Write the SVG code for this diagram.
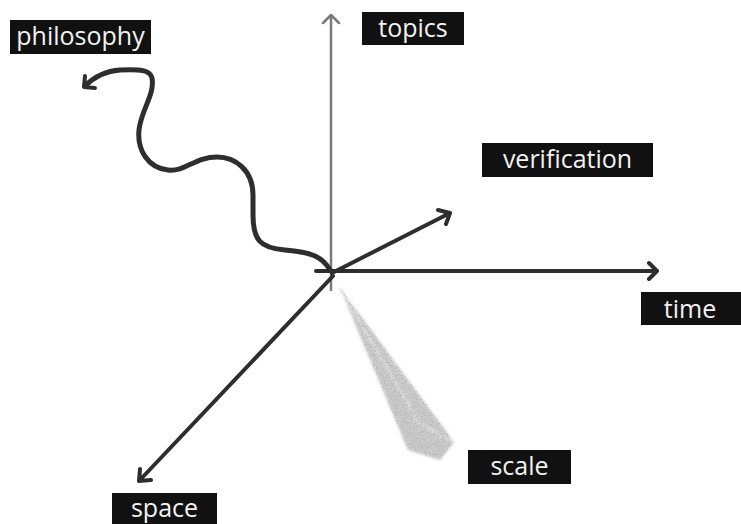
<svg xmlns="http://www.w3.org/2000/svg" width="741" height="524" viewBox="0 0 741 524">
  <style>
    .label rect { fill: #111; }
    .label text { fill: #f2f2f2; font-family: "Open Sans", "Noto Sans", sans-serif; font-size: 25px; }
    .axis { fill: none; stroke: #2e2e2e; stroke-width: 4; stroke-linecap: round; stroke-linejoin: round; }
    .thin { stroke: #7a7a7a; stroke-width: 2.5; }
    .wiggle { stroke-width: 5; }
  </style>
  <defs>
    <filter id="grain" x="-10%" y="-10%" width="120%" height="120%">
      <feTurbulence type="fractalNoise" baseFrequency="1.1" numOctaves="2" seed="5" result="noise"/>
      <feColorMatrix in="noise" type="matrix" values="0 0 0 0 0.45  0 0 0 0 0.45  0 0 0 0 0.45  0 0 0 3 -1.3" result="speck"/>
      <feComposite in="speck" in2="SourceGraphic" operator="in" result="texture"/>
      <feGaussianBlur in="SourceGraphic" stdDeviation="1.5" result="soft"/>
      <feMerge>
        <feMergeNode in="soft"/>
        <feMergeNode in="texture"/>
      </feMerge>
    </filter>
  </defs>
  <rect width="741" height="524" fill="#fff"/>

  <!-- scale: shaded cone -->
  <g id="scale-cone" filter="url(#grain)">
    <polygon points="340,288 454,442 440,460 408,450" fill="#cdcdcd"/>
    <polyline points="340,288 420,424 454,442" fill="none" stroke="#ececec" stroke-width="2"/>
  </g>

  <g id="connectors">
    <!-- topics axis -->
    <path class="axis thin" d="M331 290 L331 15 M323 23 L331 15 L339 23"/>
    <!-- time axis -->
    <path class="axis" d="M316 271 L657 271 M649 263 L657 271 L649 279"/>
    <!-- verification axis -->
    <path class="axis" d="M332 273 L450 213 M438 210 L450 213 L446 224"/>
    <!-- space axis -->
    <path class="axis" d="M333 276 L139 481 M140 469 L139 481 L151 480"/>
    <!-- philosophy: wavy path -->
    <path class="axis wiggle" d="M330 270 C 322 256, 310 252, 285 250 C 260 248, 253 240, 253 215 L 253 195 C 253 170, 235 157, 217 157 C 195 157, 185 172, 168 170 C 148 168, 137 150, 139 130 C 141 110, 155 95, 152 78 C 150 70, 140 69, 120 70 C 105 71, 93 78, 85 86"/>
    <path class="axis" d="M85 76 L84 87 L95 88"/>
  </g>

  <g id="philosophy" class="label">
    <rect x="10" y="20" width="141" height="34"/>
    <text x="80.5" y="45" text-anchor="middle">philosophy</text>
  </g>
  <g id="topics" class="label">
    <rect x="362" y="12" width="102" height="33"/>
    <text x="413" y="37" text-anchor="middle">topics</text>
  </g>
  <g id="verification" class="label">
    <rect x="482" y="143" width="171" height="34"/>
    <text x="567.5" y="168" text-anchor="middle">verification</text>
  </g>
  <g id="time" class="label">
    <rect x="641" y="292" width="100" height="33"/>
    <text x="690" y="318" text-anchor="middle">time</text>
  </g>
  <g id="scale" class="label">
    <rect x="468" y="450" width="103" height="34"/>
    <text x="519.5" y="475" text-anchor="middle">scale</text>
  </g>
  <g id="space" class="label">
    <rect x="112" y="493" width="105" height="31"/>
    <text x="164.5" y="517" text-anchor="middle">space</text>
  </g>
</svg>
